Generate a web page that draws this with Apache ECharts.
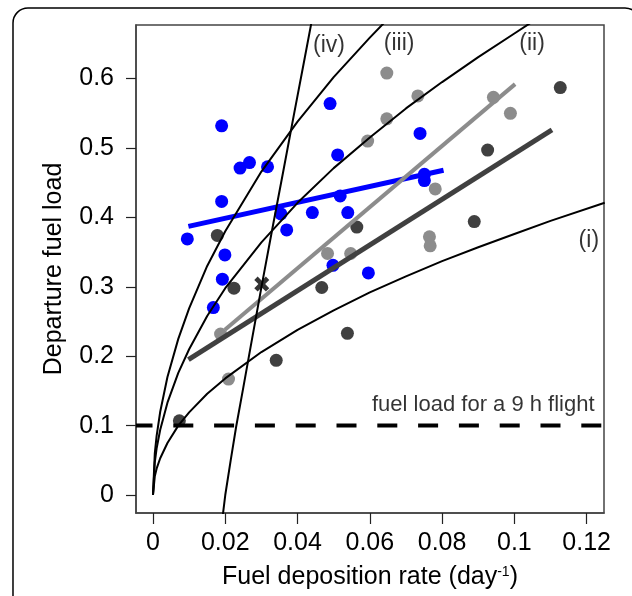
<!DOCTYPE html>
<html><head><meta charset="utf-8">
<script src="https://cdn.jsdelivr.net/npm/echarts@6/dist/echarts.min.js"></script>
<style>html,body{margin:0;padding:0;background:#fff}#c{width:632px;height:596px}</style>
</head><body><div id="c"></div>
<script>
// ---- data ----
const xTicks = [0, 0.02, 0.04, 0.06, 0.08, 0.1, 0.12];
const yTicks = [0, 0.1, 0.2, 0.3, 0.4, 0.5, 0.6];

const bluePts = [[0.0190,0.532],[0.0241,0.471],[0.0267,0.479],[0.0317,0.473],[0.0490,0.564],[0.0511,0.490],[0.0190,0.423],[0.0354,0.405],[0.0441,0.407],[0.0518,0.431],[0.0539,0.407],[0.0370,0.382],[0.0095,0.369],[0.0199,0.346],[0.0498,0.331],[0.0596,0.320],[0.0192,0.311],[0.0167,0.270],[0.0739,0.521],[0.0751,0.462],[0.0751,0.453]];
const grayPts = [[0.0647,0.608],[0.0733,0.575],[0.0647,0.542],[0.0942,0.573],[0.0989,0.550],[0.0781,0.441],[0.0765,0.372],[0.0767,0.359],[0.0594,0.510],[0.0483,0.348],[0.0547,0.348],[0.0187,0.232],[0.0209,0.167]];
const darkPts = [[0.0178,0.374],[0.0564,0.386],[0.1127,0.587],[0.0926,0.497],[0.0889,0.394],[0.0224,0.298],[0.0467,0.299],[0.0538,0.233],[0.0341,0.194],[0.0073,0.107]];

const blueFit = [[0.0098,0.387],[0.0804,0.468]];
const grayFit = [[0.0199,0.238],[0.1002,0.592]];
const darkFit = [[0.0098,0.195],[0.1104,0.526]];

const curve1X = [0,0.0005,0.001,0.002,0.004,0.007,0.01,0.015,0.02,0.03,0.04,0.05,0.06,0.07,0.08,0.09,0.1,0.11,0.125];
const curve1Y = [0,0.027,0.038,0.053,0.075,0.100,0.119,0.146,0.168,0.206,0.238,0.266,0.292,0.315,0.337,0.357,0.376,0.395,0.421];
const curve2X = [0,0.0005,0.001,0.002,0.004,0.007,0.01,0.015,0.02,0.03,0.04,0.05,0.06,0.07,0.08,0.09,0.1,0.105];
const curve2Y = [0,0.047,0.067,0.094,0.133,0.176,0.210,0.258,0.298,0.364,0.421,0.471,0.515,0.557,0.595,0.631,0.665,0.682];
const curve3X = [0,0.0005,0.001,0.002,0.004,0.007,0.01,0.015,0.02,0.03,0.04,0.05,0.06,0.065];
const curve3Y = [0,0.060,0.085,0.120,0.170,0.225,0.269,0.330,0.380,0.466,0.538,0.602,0.659,0.686];
const curve4X = [0.0193,0.0200,0.0215,0.0230,0.0250,0.0270,0.0301,0.0330,0.0360,0.0390,0.0420,0.0440];
const curve4Y = [-0.030,0.000,0.050,0.098,0.155,0.213,0.302,0.383,0.465,0.548,0.630,0.685];

const flightLoad = 0.1;
const crossPt = [[0.0301,0.304]];

const curveNames = ['(i)','(ii)','(iii)','(iv)'];
const curveNamePos = [[0.1206,0.367],[0.1049,0.651],[0.0681,0.651],[0.0487,0.648]];
const flightText = 'fuel load for a 9 h flight';
const flightTextPos = [0.0914,0.130];

const xTitle = 'Fuel deposition rate (day{sup|-1})';
const yTitle = 'Departure fuel load';

// ---- chart ----
const X_MIN = -0.0047, X_MAX = 0.1248, Y_MIN = -0.0259, Y_MAX = 0.6772;
const FONT = '"Liberation Sans", Arial, Helvetica, sans-serif';
const zip = (xs, ys) => xs.map((x, i) => [x, ys[i]]);

const chart = echarts.init(document.getElementById('c'), null, {renderer: 'canvas'});

const curveSeries = [[curve1X,curve1Y],[curve2X,curve2Y],[curve3X,curve3Y],[curve4X,curve4Y]].map(([xs, ys]) => ({
  type: 'line', data: zip(xs, ys), showSymbol: false, symbol: 'none', smooth: false,
  lineStyle: {color: '#000', width: 2}, z: 5, silent: true, animation: false
}));

const fitSeries = (d, color, w) => ({
  type: 'line', data: d, showSymbol: false, symbol: 'none',
  lineStyle: {color, width: w, cap: 'butt'}, z: 4, silent: true, animation: false
});

const ptSeries = (d, color, z) => ({
  type: 'scatter', data: d, symbol: 'circle', symbolSize: 13,
  itemStyle: {color, opacity: 1}, z, silent: true, animation: false
});

const option = {
  animation: false,
  backgroundColor: '#fff',
  textStyle: {fontFamily: FONT},
  grid: {left: 136, right: 28, top: 25, bottom: 83, show: true, borderColor: '#444', borderWidth: 1.5, backgroundColor: 'transparent'},
  xAxis: {
    type: 'value', min: X_MIN, max: X_MAX,
    splitLine: {show: false},
    axisLine: {show: true, onZero: false, lineStyle: {color: '#444', width: 1.5}},
    axisTick: {show: true, length: 11, customValues: xTicks, lineStyle: {color: '#222', width: 1.2}},
    axisLabel: {show: true, customValues: xTicks, margin: 18, fontSize: 25, color: '#000', fontFamily: FONT,
      formatter: v => String(+v.toFixed(4))},
    name: xTitle, nameLocation: 'middle', nameGap: 52,
    nameTextStyle: {fontSize: 25, color: '#000', fontFamily: FONT,
      rich: {sup: {fontSize: 14, verticalAlign: 'top', color: '#000', fontFamily: FONT, padding: [0,0,11,0]}}}
  },
  yAxis: {
    type: 'value', min: Y_MIN, max: Y_MAX,
    splitLine: {show: false},
    axisLine: {show: true, onZero: false, lineStyle: {color: '#444', width: 1.5}},
    axisTick: {show: true, length: 10, customValues: yTicks, lineStyle: {color: '#222', width: 1.2}},
    axisLabel: {show: true, customValues: yTicks, margin: 22, fontSize: 25, color: '#000', fontFamily: FONT,
      formatter: v => String(+v.toFixed(4))},
    name: yTitle, nameLocation: 'middle', nameGap: 69, nameRotate: 90,
    nameTextStyle: {fontSize: 25, color: '#000', fontFamily: FONT}
  },
  graphic: [{
    type: 'rect', shape: {x: 13, y: 8, width: 627, height: 640, r: 15},
    style: {fill: 'none', stroke: '#000', lineWidth: 1.5}, silent: true, z: -1
  }],
  series: [
    {
      type: 'line', data: [[X_MIN, flightLoad], [X_MAX, flightLoad]], showSymbol: false, symbol: 'none',
      lineStyle: {color: '#000', width: 4, type: [20, 20.8], dashOffset: 3.5, cap: 'butt'}, z: 3, silent: true
    },
    ptSeries(bluePts, '#0000ff', 2),
    ptSeries(grayPts, '#8c8c8c', 2),
    ptSeries(darkPts, '#404040', 2),
    fitSeries(blueFit, '#0000ff', 5),
    fitSeries(grayFit, '#8c8c8c', 4),
    fitSeries(darkFit, '#404040', 5),
    ...curveSeries,
    {
      type: 'scatter', data: crossPt, symbolSize: 15,
      symbol: 'path://M4.5,0 L10,5.5 L15.5,0 L20,4.5 L14.5,10 L20,15.5 L15.5,20 L10,14.5 L4.5,20 L0,15.5 L5.5,10 L0,4.5 Z',
      itemStyle: {color: '#000'}, z: 7, silent: true
    },
    {
      type: 'scatter', symbolSize: 0, z: 8, silent: true,
      data: curveNames.map((n, i) => ({name: n, value: curveNamePos[i]})).concat([{name: flightText, value: flightTextPos}]),
      label: {show: true, position: 'inside', formatter: p => p.name, color: '#000', textBorderWidth: 0,
        fontSize: 23, fontFamily: FONT,
        rich: {}}
    }
  ]
};
option.series[option.series.length - 1].data[4].label = {fontSize: 22};
chart.setOption(option);
</script>
</body></html>
